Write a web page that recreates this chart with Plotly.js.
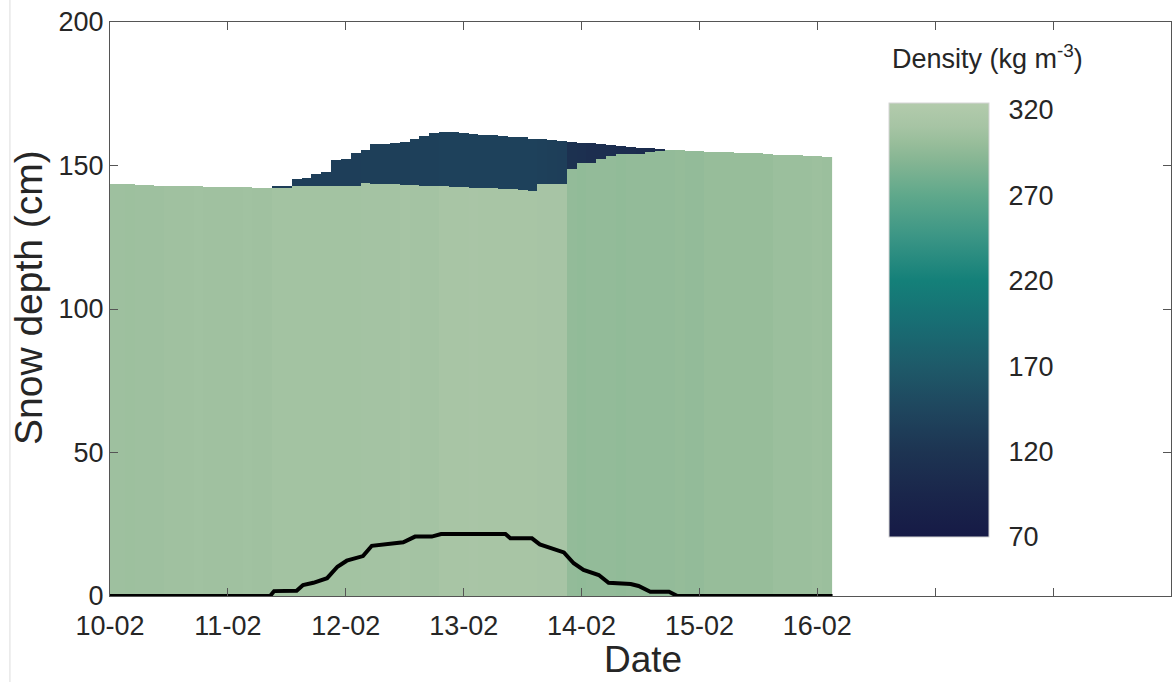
<!DOCTYPE html>
<html>
<head>
<meta charset="utf-8">
<script src="https://cdn.plot.ly/plotly-3.0.1.min.js"></script>
<style>html,body{margin:0;padding:0;background:#fff;}#chart{width:1173px;height:682px;}</style>
</head>
<body>
<div id="chart"></div>
<script>
// ---- data ----
const startDate = '2021-02-10';
const stepHours = 2; // model output time step (column width)
const axisDays = 9;  // x axis spans 10-02 .. 19-02
// snow surface height (cm), one value per 2-hour column from 10-02 00:00
const surfaceHeight = [
  143.5,143.4,143.4,143.3,143.2,143.1,143.0,142.9,142.9,142.8,
  142.7,142.6,142.6,142.5,142.4,142.3,142.3,143.1,143.1,145.3,
  145.8,147.0,147.6,151.9,152.5,154.2,155.5,157.7,157.7,158.0,
  158.3,159.5,160.3,161.2,161.8,161.6,161.4,161.1,160.8,160.6,
  160.3,160.1,159.8,159.5,159.2,158.9,158.6,158.3,158.0,157.8,
  157.5,157.2,156.9,156.6,156.3,156.0,155.7,155.5,155.4,155.2,
  155.0,154.9,154.7,154.6,154.5,154.3,154.2,154.1,153.9,153.8,
  153.6,153.5,153.3,153.1
];
// top of the dense (old) snow layer (cm)
const oldLayerTop = [
  143.5,143.4,143.4,143.3,143.2,143.1,143.0,142.9,142.9,142.8,
  142.7,142.6,142.6,142.5,142.4,142.3,142.3,142.3,142.3,142.8,
  142.8,142.8,142.8,142.8,142.8,142.8,143.8,143.7,143.6,143.4,
  143.3,143.2,143.0,142.9,142.8,142.6,142.5,142.3,142.2,142.0,
  141.9,141.8,141.6,141.3,143.5,143.5,143.6,148.8,150.8,150.8,
  152.2,153.4,154.1,154.1,154.1,154.6,155.3,155.5,155.4,155.2,
  155.0,154.9,154.7,154.6,154.5,154.3,154.2,154.1,153.9,153.8,
  153.6,153.5,153.3,153.1
];
// density of old snow (kg m-3)
const oldDensity = [
  305,305,304,305,305,305,306,306,306,307,
  306,306,306,306,307,306,306,308,308,308,
  308,308,308,308,308,308,309,309,309,309,
  310,309,309,309,312,312,312,313,312,312,
  312,312,312,312,311,311,311,298,297,298,
  298,298,297,298,298,298,298,298,299,298,
  298,300,300,300,300,300,300,300,303,303,
  303,303,304,303
];
// density of new snow (kg m-3)
const newDensity = [
  null,null,null,null,null,null,null,null,null,null,
  null,null,null,null,null,null,null,133,133,134,
  134,134,134,134,134,134,135,135,135,135,
  135,136,136,136,138,138,138,138,138,138,
  138,138,138,138,136,135,134,114,112,110,
  110,110,108,108,106,106,106,null,null,null,
  null,null,null,null,null,null,null,null,null,null,
  null,null,null,null
];
// new snow thickness (black line): hours since start, cm
const lineHours = [0,32.6,33.4,38.0,39.3,41.4,44.2,46.3,48.2,51.5,53.3,57.7,59.7,62.1,65.5,67.4,80.5,81.5,85.9,87.5,92.4,94.4,96.4,99.5,101.5,106.0,107.6,110.0,113.8,115.5,147.1];
const lineDepth = [0,0,1.7,1.8,3.8,4.6,6.2,10.2,12.3,13.9,17.5,18.1,18.7,20.7,20.7,21.6,21.6,20.1,20.1,18.0,15.2,11.4,9.1,7.3,4.6,4.2,3.5,1.5,1.5,0,0];
const dayLabels = ['10-02','11-02','12-02','13-02','14-02','15-02','16-02'];
const yTicks = [0,50,100,150,200];
const cbTicks = [70,120,170,220,270,320];

// ---- build ----
const t0 = new Date(startDate + 'T00:00:00Z').getTime();
function hoursToDate(h){ return new Date(t0 + h*3600e3).toISOString().slice(0,19).replace('T',' '); }
const colX = surfaceHeight.map((_, i) => hoursToDate(i*stepHours));
const dy = 0.2;
const rowY = [];
for (let y = dy/2; y < 163; y += dy) rowY.push(+y.toFixed(2));
const z = rowY.map(y => surfaceHeight.map((top, i) => {
  if (y < oldLayerTop[i]) return oldDensity[i];
  if (y < top) return newDensity[i];
  return null;
}));
const tickVals = dayLabels.map((_, i) => hoursToDate(i*24));

const txt = '#262626';
const FONT = 'Liberation Sans, Arial, sans-serif';
const colorscale = [
  [0.000,'#161a46'],[0.098,'#1a264b'],[0.197,'#1d3452'],[0.295,'#1f465e'],
  [0.394,'#1e5a69'],[0.492,'#186d73'],[0.591,'#148079'],[0.689,'#3a9585'],
  [0.787,'#5fa88b'],[0.866,'#85b593'],[0.906,'#97bd9a'],[0.945,'#a6c4a4'],[1.000,'#b3cbac']
];

const heat = {
  type: 'heatmap', x: colX, y: rowY, z: z, zsmooth: false,
  zmin: 70, zmax: 324, colorscale: colorscale, hoverinfo: 'skip',
  colorbar: {
    x: 0.7342, xanchor: 'left', xpad: 0, ypad: 0,
    y: 0.4808, yanchor: 'middle', len: 434, lenmode: 'pixels', thickness: 100,
    outlinewidth: 1, outlinecolor: '#d5d5d5',
    tickvals: cbTicks, ticks: 'outside', ticklen: 14, tickcolor: 'rgba(0,0,0,0)',
    tickfont: {family: FONT, size: 27, color: txt}
  }
};
const line = {
  type: 'scatter', mode: 'lines', x: lineHours.map(hoursToDate), y: lineDepth,
  line: {color: '#000', width: 4}, hoverinfo: 'skip', showlegend: false
};

const layout = {
  width: 1173, height: 682,
  margin: {l: 110, r: 2, t: 22, b: 86},
  paper_bgcolor: '#fff', plot_bgcolor: '#fff',
  font: {family: FONT, color: txt},
  showlegend: false,
  xaxis: {
    type: 'date', range: [hoursToDate(0), hoursToDate(axisDays*24)],
    tickvals: tickVals, ticktext: dayLabels,
    ticks: 'inside', ticklen: 8, tickcolor: '#555', tickwidth: 1,
    minor: {ticks: 'inside', ticklen: 8, tickcolor: '#555', tickwidth: 1, dtick: 86400000, tick0: hoursToDate(0), showgrid: false},
    ticklabelstandoff: 6,
    showline: true, linecolor: '#555', linewidth: 1, mirror: 'ticks',
    showgrid: false, zeroline: false,
    tickfont: {family: FONT, size: 27, color: txt}
  },
  yaxis: {
    range: [0, 200], tickvals: yTicks,
    ticks: 'inside', ticklen: 8, tickcolor: '#555', tickwidth: 1,
    showline: true, linecolor: '#555', linewidth: 1, mirror: 'ticks',
    showgrid: false, zeroline: false,
    tickfont: {family: FONT, size: 27, color: txt}
  },
  annotations: [
    {xref: 'paper', yref: 'paper', x: 0.7352, y: 0.939, xanchor: 'left', yanchor: 'middle',
     text: 'Density (kg m<sup>-3</sup>)', showarrow: false,
     font: {family: FONT, size: 27, color: txt}},
    {xref: 'paper', yref: 'paper', x: (28-110)/1061, y: (596-298)/574, xanchor: 'center', yanchor: 'middle',
     text: 'Snow depth (cm)', textangle: -90, showarrow: false,
     font: {family: FONT, size: 39, color: txt}},
    {xref: 'paper', yref: 'paper', x: (643-110)/1061, y: (596-682)/574, xanchor: 'center', yanchor: 'bottom',
     text: 'Date', showarrow: false,
     font: {family: FONT, size: 37, color: txt}}
  ],
  shapes: [{
    type: 'line', xref: 'paper', yref: 'paper', x0: -0.0943, x1: -0.0943, y0: -0.16, y1: 1.05,
    line: {color: '#dcdcdc', width: 1}
  }]
};

Plotly.newPlot('chart', [heat, line], layout, {displayModeBar: false, staticPlot: true});
</script>
</body>
</html>
